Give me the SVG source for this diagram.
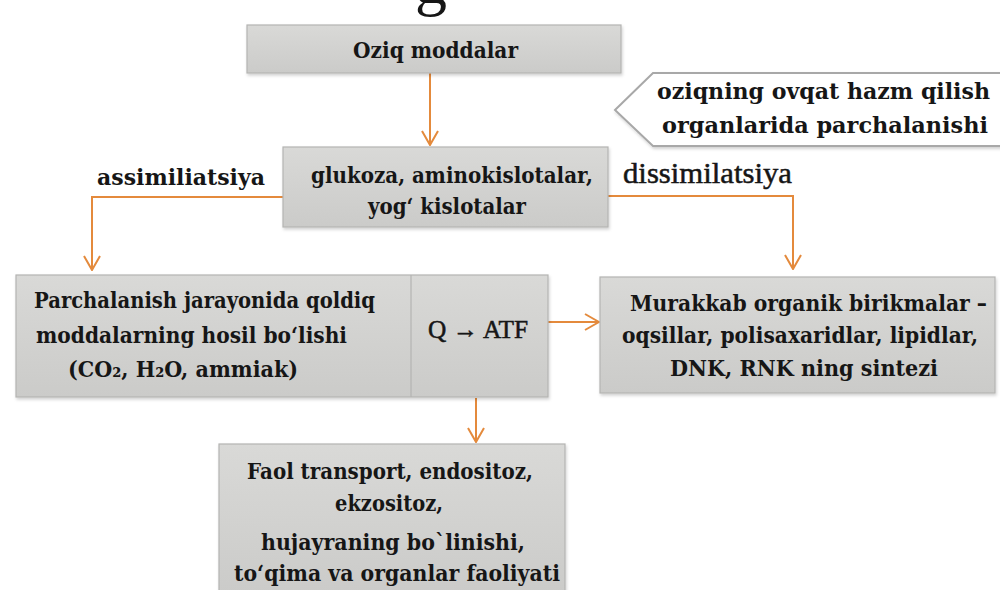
<svg xmlns="http://www.w3.org/2000/svg" width="1000" height="590" viewBox="0 0 1000 590">
<style>
.box{fill:url(#gb);stroke:#b4b4b2;stroke-width:1.2}
.t{font-family:"DejaVu Serif","Liberation Serif",serif;font-weight:bold;fill:#161616;font-size:22px}
.n{font-family:"Liberation Serif","Times New Roman",serif;font-weight:normal;fill:#161616;stroke:#161616;stroke-width:0.5}
.c{fill:none;stroke:#e48a3c;stroke-width:2}
</style>
<defs>
<linearGradient id="gb" x1="0" y1="0" x2="0" y2="1">
<stop offset="0" stop-color="#d9d9d7"/>
<stop offset="1" stop-color="#cbcbc9"/>
</linearGradient>
<marker id="ah" viewBox="0 0 16 18" refX="15" refY="9" markerWidth="16" markerHeight="18" markerUnits="userSpaceOnUse" orient="auto">
<path d="M1,1 L15,9 L1,17" fill="none" stroke="#e48a3c" stroke-width="2"/>
</marker>
<filter id="sh" x="-5%" y="-10%" width="110%" height="130%">
<feDropShadow dx="1" dy="2" stdDeviation="1.5" flood-color="#000" flood-opacity="0.18"/>
</filter>
</defs>
<rect width="1000" height="590" fill="#ffffff"/>
<text x="415" y="3" font-family="Liberation Serif, serif" font-size="64" fill="#161616">g</text>

<g id="connectors">
<path class="c" d="M430,73 V145" marker-end="url(#ah)"/>
<path class="c" d="M283,197 H92 V270" marker-end="url(#ah)"/>
<path class="c" d="M608,196 H793 V269" marker-end="url(#ah)"/>
<path class="c" d="M548,322 H599" marker-end="url(#ah)"/>
<path class="c" d="M476,398 V442" marker-end="url(#ah)"/>
</g>

<g id="node-oziq">
<rect class="box" x="247" y="25" width="374" height="48" filter="url(#sh)"/>
<text class="t" x="353" y="58" font-size="23" textLength="165" lengthAdjust="spacingAndGlyphs">Oziq moddalar</text>
</g>

<g id="node-parchalanishi">
<path d="M615,110 L653,73 H1002 V146 H653 Z" fill="#ffffff" stroke="#a8a8a8" stroke-width="2" filter="url(#sh)"/>
<text class="t" x="657" y="99" font-size="21" textLength="333" lengthAdjust="spacingAndGlyphs">oziqning ovqat hazm qilish</text>
<text class="t" x="662" y="133" font-size="21" textLength="326" lengthAdjust="spacingAndGlyphs">organlarida parchalanishi</text>
</g>

<g id="label-assimiliatsiya">
<text class="t" x="97" y="185" font-size="23" textLength="168" lengthAdjust="spacingAndGlyphs">assimiliatsiya</text>
</g>
<g id="label-dissimilatsiya">
<text class="n" x="623" y="183" font-size="29" textLength="169" lengthAdjust="spacingAndGlyphs">dissimilatsiya</text>
</g>

<g id="node-glukoza">
<rect class="box" x="283" y="147" width="325" height="80" filter="url(#sh)"/>
<text class="t" x="311" y="183" font-size="21" textLength="282" lengthAdjust="spacingAndGlyphs">glukoza, aminokislotalar,</text>
<text class="t" x="368" y="214" font-size="21" textLength="158" lengthAdjust="spacingAndGlyphs">yog‘ kislotalar</text>
</g>

<g id="node-qoldiq">
<rect class="box" x="16" y="275" width="532" height="122" filter="url(#sh)"/>
<line x1="411" y1="275" x2="411" y2="397" stroke="#b4b4b2" stroke-width="1.2"/>
<text class="t" x="34" y="308" font-size="21" textLength="341" lengthAdjust="spacingAndGlyphs">Parchalanish jarayonida qoldiq</text>
<text class="t" x="36" y="343" font-size="21" textLength="311" lengthAdjust="spacingAndGlyphs">moddalarning hosil bo‘lishi</text>
<text class="t" x="68" y="377" font-size="21" textLength="230" lengthAdjust="spacingAndGlyphs">(CO₂, H₂O, ammiak)</text>
<text class="n" x="428" y="338" font-size="25" textLength="100" lengthAdjust="spacingAndGlyphs">Q → ATF</text>
</g>

<g id="node-murakkab">
<rect class="box" x="600" y="277" width="395" height="116" filter="url(#sh)"/>
<text class="t" x="630" y="311" font-size="19.5" textLength="357" lengthAdjust="spacingAndGlyphs">Murakkab organik birikmalar –</text>
<text class="t" x="622" y="343" font-size="19.5" textLength="356" lengthAdjust="spacingAndGlyphs">oqsillar, polisaxaridlar, lipidlar,</text>
<text class="t" x="670" y="376" font-size="20.5" textLength="268" lengthAdjust="spacingAndGlyphs">DNK, RNK ning sintezi</text>
</g>

<g id="node-faol">
<rect class="box" x="219" y="444" width="346" height="150" filter="url(#sh)"/>
<text class="t" x="247" y="479" font-size="23" textLength="286" lengthAdjust="spacingAndGlyphs">Faol transport, endositoz,</text>
<text class="t" x="335" y="511" font-size="23" textLength="108" lengthAdjust="spacingAndGlyphs">ekzositoz,</text>
<text class="t" x="261" y="550" font-size="23" textLength="264" lengthAdjust="spacingAndGlyphs">hujayraning bo`linishi,</text>
<text class="t" x="234" y="581" font-size="23" textLength="326" lengthAdjust="spacingAndGlyphs">to‘qima va organlar faoliyati</text>
</g>
</svg>
